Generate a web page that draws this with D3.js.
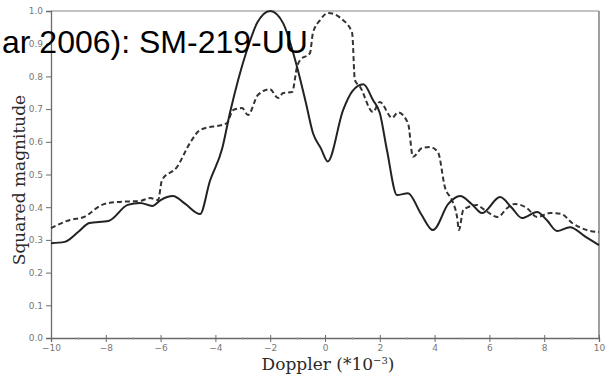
<!DOCTYPE html>
<html>
<head>
<meta charset="utf-8">
<script src="https://cdn.jsdelivr.net/npm/d3@7/dist/d3.min.js"></script>
<style>
  html, body { margin: 0; padding: 0; background: #fff; }
  svg { display: block; }
</style>
</head>
<body>
<svg id="chart" width="612" height="381"></svg>
<script>
// Doppler offsets (×10^-3) and squared magnitude for the two spectra
const solidDoppler = [-10, -9.5, -9, -8.6, -7.9, -7.2, -6.75, -6.3, -6.0, -5.55, -5.1, -4.56, -4.2, -3.75, -3.47, -2.85, -2.48, -2.0, -1.53, -1.02, -0.7, -0.44, -0.15, 0.1, 0.66, 1.0, 1.4, 1.75, 2.0, 2.26, 2.63, 3.03, 3.5, 3.94, 4.5, 4.93, 5.35, 5.73, 6.39, 6.8, 7.19, 7.74, 8.1, 8.47, 8.94, 9.5, 10];
const solidMag = [0.29, 0.294, 0.325, 0.352, 0.358, 0.407, 0.413, 0.404, 0.422, 0.434, 0.41, 0.379, 0.48, 0.58, 0.688, 0.88, 0.963, 1.0, 0.963, 0.829, 0.72, 0.627, 0.58, 0.54, 0.697, 0.755, 0.776, 0.728, 0.688, 0.575, 0.437, 0.443, 0.38, 0.33, 0.41, 0.434, 0.41, 0.382, 0.431, 0.40, 0.367, 0.385, 0.36, 0.327, 0.339, 0.31, 0.284];

const dashedDoppler = [-10, -9.31, -8.8, -8.14, -7.59, -6.75, -6.39, -6.09, -5.95, -5.4, -4.93, -4.56, -3.58, -3.36, -3.03, -2.81, -2.45, -2.01, -1.71, -1.53, -1.2, -1.02, -0.91, -0.55, -0.44, -0.18, 0.11, 0.66, 0.99, 1.09, 1.28, 1.75, 2.0, 2.45, 2.66, 3.03, 3.21, 3.54, 3.83, 4.12, 4.38, 4.64, 4.82, 4.89, 5.04, 5.22, 5.55, 5.77, 6.31, 6.64, 6.93, 7.37, 7.74, 8.21, 8.6, 9.05, 9.56, 10];
const dashedMag = [0.336, 0.361, 0.37, 0.407, 0.416, 0.419, 0.428, 0.422, 0.483, 0.523, 0.596, 0.636, 0.657, 0.697, 0.703, 0.682, 0.743, 0.761, 0.734, 0.749, 0.752, 0.829, 0.85, 0.871, 0.933, 0.972, 0.994, 0.972, 0.933, 0.789, 0.768, 0.691, 0.722, 0.673, 0.69, 0.657, 0.554, 0.581, 0.584, 0.569, 0.46, 0.42, 0.37, 0.33, 0.39, 0.40, 0.407, 0.395, 0.37, 0.397, 0.41, 0.397, 0.37, 0.382, 0.38, 0.35, 0.33, 0.324];

const xTicks = [-10, -8, -6, -4, -2, 0, 2, 4, 6, 8, 10];
const xMinorTicks = [-9, -7, -5, -3, -1, 1, 3, 5, 7, 9];
const yTicks = [0.0, 0.1, 0.2, 0.3, 0.4, 0.5, 0.6, 0.7, 0.8, 0.9, 1.0];

const svg = d3.select("#chart");
const plotLeft = 51, plotRight = 599, plotTop = 11, plotBottom = 338;

const x = d3.scaleLinear().domain([-10, 10]).range([plotLeft, plotRight]);
const y = d3.scaleLinear().domain([0, 1]).range([plotBottom, plotTop]);

const axisColor = "#6a6a6a";
const tickFont = "DejaVu Sans, sans-serif";

// frame: top and right edges
svg.append("line").attr("x1", plotLeft).attr("x2", plotRight).attr("y1", plotTop).attr("y2", plotTop)
  .attr("stroke", "#888").attr("stroke-width", 1.2);
svg.append("line").attr("x1", plotRight).attr("x2", plotRight).attr("y1", plotTop).attr("y2", plotBottom)
  .attr("stroke", "#777").attr("stroke-width", 1.4);

// x axis
const gx = svg.append("g").attr("transform", `translate(0,${plotBottom})`)
  .call(d3.axisBottom(x).tickValues(xTicks).tickSize(4).tickPadding(3)
    .tickFormat(d => d < 0 ? "\u2212" + Math.abs(d) : String(d)));
gx.select(".domain").attr("stroke", axisColor).attr("stroke-width", 1.3);
gx.selectAll(".tick line").attr("stroke", axisColor).attr("y1", -3);
gx.selectAll(".tick text").attr("fill", "#777").style("font-family", tickFont).style("font-size", "9px");
gx.selectAll(".minor").data(xMinorTicks).enter().append("line")
  .attr("class", "minor")
  .attr("x1", d => x(d)).attr("x2", d => x(d))
  .attr("y1", -1).attr("y2", 2)
  .attr("stroke", "#aaa");

// y axis
const gy = svg.append("g").attr("transform", `translate(${plotLeft},0)`)
  .call(d3.axisLeft(y).tickValues(yTicks).tickSize(5).tickPadding(3).tickFormat(d3.format(".1f")));
gy.select(".domain").attr("stroke", axisColor).attr("stroke-width", 1.3);
gy.selectAll(".tick line").attr("stroke", axisColor);
gy.selectAll(".tick text").attr("fill", "#777").style("font-family", tickFont).style("font-size", "9px");

// axis titles
const xTitle = svg.append("text")
  .attr("x", 328).attr("y", 370)
  .attr("text-anchor", "middle")
  .style("font-family", "DejaVu Serif, serif").style("font-size", "17px").attr("fill", "#2a2a2a");
xTitle.append("tspan").text("Doppler (*10");
xTitle.append("tspan").attr("dy", -6).style("font-size", "10px").text("\u22123");
xTitle.append("tspan").attr("dy", 6).text(")");

svg.append("text")
  .attr("transform", "translate(25,180) rotate(-90)")
  .attr("text-anchor", "middle")
  .style("font-family", "DejaVu Serif, serif").style("font-size", "17px").attr("fill", "#2a2a2a")
  .text("Squared magnitude");

// spectra
const line = d3.line().x(d => x(d[0])).y(d => y(d[1])).curve(d3.curveMonotoneX);
const solid = d3.zip(solidDoppler, solidMag);
const dashed = d3.zip(dashedDoppler, dashedMag);

svg.append("path").datum(dashed).attr("d", line)
  .attr("fill", "none").attr("stroke", "#333").attr("stroke-width", 2)
  .attr("stroke-dasharray", "5,3");
svg.append("path").datum(solid).attr("d", line)
  .attr("fill", "none").attr("stroke", "#222").attr("stroke-width", 2);

// overlaid caption
svg.append("text")
  .attr("x", 2).attr("y", 53)
  .style("font-family", "Liberation Sans, Arial, sans-serif").style("font-size", "32px")
  .attr("fill", "#000")
  .text("ar 2006): SM-219-UU");
</script>
</body>
</html>
